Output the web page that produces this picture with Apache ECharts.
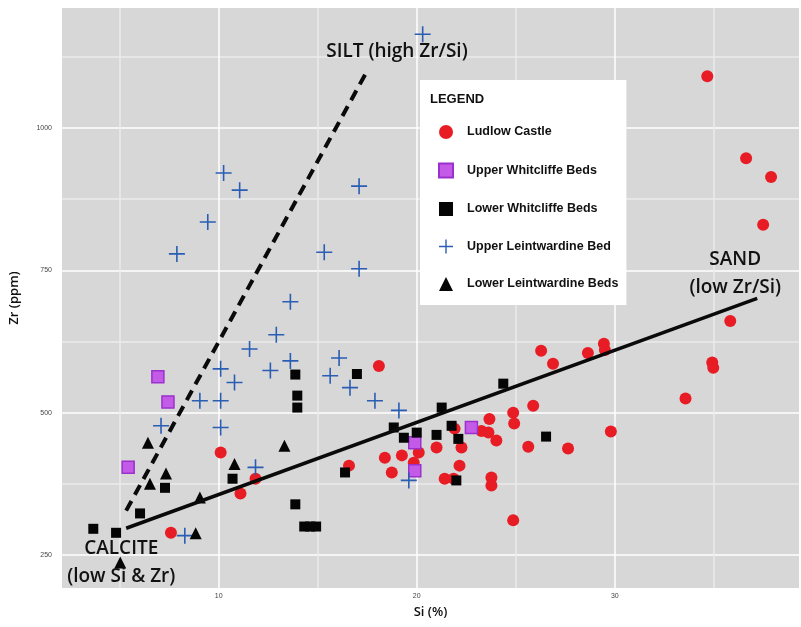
<!DOCTYPE html>
<html><head><meta charset="utf-8">
<script src="https://cdn.jsdelivr.net/npm/echarts@6/dist/echarts.min.js"></script>
<style>html,body{margin:0;padding:0;background:#fff}#c{width:801px;height:627px}</style>
</head><body><div id="c"></div>
<script>
// ---- data (Si %, Zr ppm) ----
const ludlowCastle = [[34.67,1091],[36.63,947],[37.89,914],[37.49,830],[35.83,661],[34.92,588],[34.97,579],[33.57,525],
 [29.8,467],[29.45,621],[29.5,610],[28.64,605],[26.28,609],[26.88,586],[25.88,512],[24.87,500],[24.92,481],[25.63,440],
 [27.64,437],[23.67,489],[23.27,468],[23.62,465],[24.02,451],[22.26,439],[22.16,407],[21.41,384],[21.86,384],[23.77,386],
 [23.77,372],[24.87,311],[21.91,472],[21.0,439],[20.1,430],[19.25,425],[19.85,412],[18.39,421],[18.74,395],[18.09,582],
 [16.58,407],[11.1,358],[11.86,384],[10.1,430],[7.59,289]];
const upperWhitcliffe = [[6.93,563],[7.44,519],[5.43,404],[22.76,474],[19.9,447],[19.9,398]];
const lowerWhitcliffe = [[3.67,296],[4.82,289],[6.03,323],[7.29,368],[10.7,384],[13.87,567],[13.97,530],[13.97,509],
 [13.87,339],[14.32,300],[14.62,300],[14.92,300],[16.98,568],[16.38,395],[18.84,474],[19.35,456],[20.0,465],[21.0,461],
 [21.26,509],[21.76,477],[22.1,454],[24.37,551],[26.53,458],[22.0,381]];
const upperLeintwardine = [[20.3,1165],[10.25,921],[11.06,891],[9.45,835],[7.89,779],[17.09,898],[15.33,782],[17.09,753],
 [13.62,695],[12.91,637],[11.56,612],[13.62,591],[12.61,574],[10.8,553],[10.1,577],[9.05,521],[10.1,521],[7.09,477],
 [10.1,474],[11.86,404],[8.29,284],[16.08,596],[15.63,565],[16.63,544],[17.89,521],[19.1,504],[19.6,381]];
const lowerLeintwardine = [[6.43,447],[7.34,393],[6.53,375],[9.05,351],[8.84,288],[5.03,237],[10.8,410],[13.32,442]];
const siltLine = [[5.33,328],[17.49,1100]];
const sandLine = [[5.33,297],[37.19,701]];
const noteTexts = ['SILT (high Zr/Si)', 'SAND\n(low Zr/Si)', 'CALCITE\n(low Si & Zr)'];
const noteX = [19.0, 36.08, 5.08];
const noteY = [1135, 745, 237];
const xTicks = [10, 20, 30];
const yTicks = [250, 500, 750, 1000];
const xGrid = [5, 10, 15, 20, 25, 30, 35];
const yGrid = [250, 375, 500, 625, 750, 875, 1000, 1125];
const seriesNames = ['Ludlow Castle','Upper Whitcliffe Beds','Lower Whitcliffe Beds','Upper Leintwardine Bed','Lower Leintwardine Beds'];

const plusPath = 'path://M9,0h2v9h9v2h-9v9h-2v-9h-9v-2h9z';
const font = '"Open Sans", "DejaVu Sans", sans-serif';
const chart = echarts.init(document.getElementById('c'), null, {renderer:'canvas'});
chart.setOption({
  animation: false,
  backgroundColor: '#ffffff',
  title: { text: 'LEGEND', left: 425, top: 88, z: 20, textStyle: { fontSize: 13, fontWeight: 'bold', color: '#111', fontFamily: '"Liberation Sans", Arial, sans-serif' } },
  legend: {
    data: seriesNames, selectedMode: false, orient: 'vertical', left: 420, top: 80, z: 10,
    backgroundColor: '#ffffff', padding: [45, 8, 14, 18], itemWidth: 14, itemHeight: 14, itemGap: 23.5,
    textStyle: { fontSize: 12.5, fontWeight: 'bold', color: '#111', fontFamily: '"Liberation Sans", Arial, sans-serif', padding: [0,0,0,9] }
  },
  grid: { left: 58, right: 2, top: 8, bottom: 39, show: true, backgroundColor: '#d7d7d7', borderWidth: 0 },
  xAxis: {
    type: 'value', min: 2.09, max: 39.3, name: 'Si (%)', nameLocation: 'middle', nameGap: 18,
    nameTextStyle: { fontSize: 13, fontWeight: 600, color: '#111', fontFamily: font },
    axisLine: { show: false },
    axisTick: { show: false, customValues: xGrid },
    axisLabel: { customValues: xTicks, fontSize: 7, color: '#444', margin: 5, formatter: v => String(v) },
    splitLine: { show: true, lineStyle: { color: ['#ebebeb', '#ffffff'], width: 1.5 } }
  },
  yAxis: {
    type: 'value', min: 192, max: 1211, name: 'Zr (ppm)', nameLocation: 'middle', nameGap: 41,
    nameTextStyle: { fontSize: 13, fontWeight: 600, color: '#111', fontFamily: font },
    axisLine: { show: false },
    axisTick: { show: false, customValues: yGrid },
    axisLabel: { customValues: yTicks, fontSize: 7, color: '#444', margin: 10, formatter: v => String(v) },
    splitLine: { show: true, lineStyle: { color: ['#ffffff', '#ebebeb'], width: 1.5 } }
  },
  series: [
    { name: seriesNames[0], type: 'scatter', data: ludlowCastle, symbol: 'circle', symbolSize: 12, itemStyle: { color: '#e81c24', opacity: 1 } },
    { name: seriesNames[1], type: 'scatter', data: upperWhitcliffe, symbol: 'rect', symbolSize: 12, itemStyle: { color: '#c45ae8', borderColor: '#9b30cc', borderWidth: 1.5, opacity: 1 } },
    { name: seriesNames[2], type: 'scatter', data: lowerWhitcliffe, symbol: 'rect', symbolSize: 10, itemStyle: { color: '#050505', opacity: 1 } },
    { name: seriesNames[3], type: 'scatter', data: upperLeintwardine, symbol: plusPath, symbolSize: 16, itemStyle: { color: '#2a5db4', opacity: 1 } },
    { name: seriesNames[4], type: 'scatter', data: lowerLeintwardine, symbol: 'triangle', symbolSize: 12, itemStyle: { color: '#050505', opacity: 1 } },
    { type: 'line', data: siltLine, symbol: 'none', z: 5, lineStyle: { color: '#0a0a0a', width: 4, type: [11, 7] } },
    { type: 'line', data: sandLine, symbol: 'none', z: 5, lineStyle: { color: '#0a0a0a', width: 3.5 } },
    { type: 'scatter', symbolSize: 0, z: 6, silent: true, itemStyle: { opacity: 1 },
      data: noteTexts.map((t, i) => ({ value: [noteX[i], noteY[i]], name: t })),
      label: { show: true, position: 'inside', formatter: p => p.name, fontSize: 19, fontWeight: 600, lineHeight: 28, color: '#111', opacity: 1, fontFamily: font } }
  ]
});
</script></body></html>
